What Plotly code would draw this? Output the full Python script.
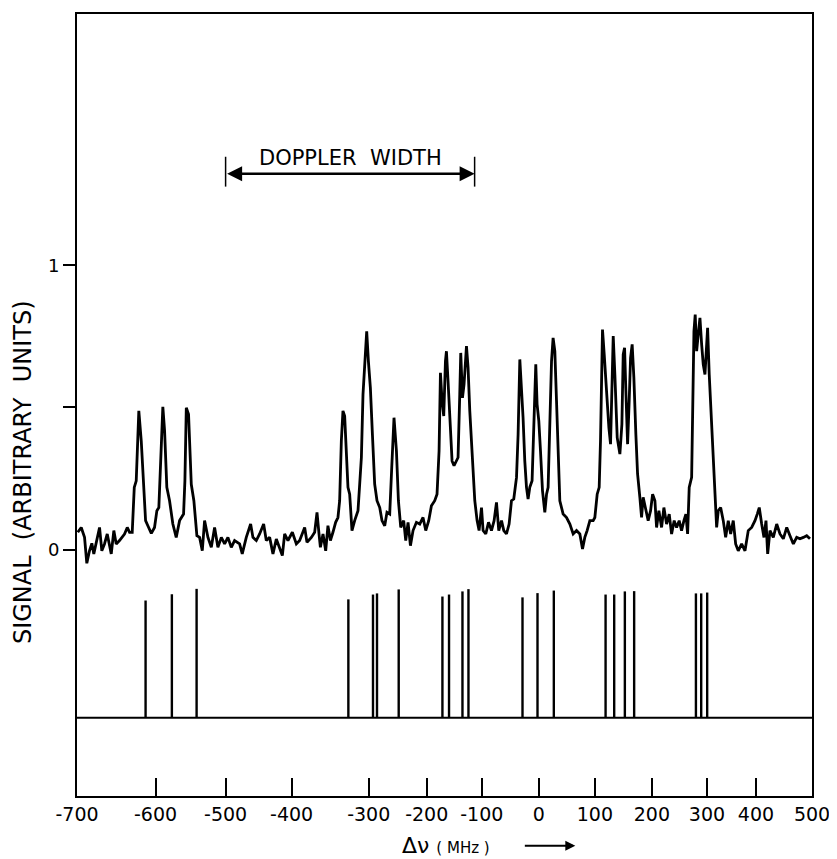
import numpy as np
import plotly.graph_objects as go

# ---------------- data ----------------
# frequency calibration of the recorder sweep: tick labels (MHz) and where each
# calibration mark sits along the chart (arbitrary chart units)
TICK_MHZ = [-700, -600, -500, -400, -300, -200, -100, 0, 100, 200, 300, 400, 500]
TICK_SWEEP = [0, 78.5, 148.5, 214.5, 291.5, 349.5, 404.5, 461.5, 517.5, 574.5, 629.5, 678.5, 734.5]

# recorded spectrum (MHz, signal in arbitrary units)
trace_mhz = [
    -699.0, -694.6, -690.4, -687.5, -684.1, -681.1, -678.6, -675.5, -671.3, -668.4,
    -665.0, -661.5, -658.6, -656.4, -653.1, -650.1, -645.9, -639.5, -636.0, -633.1,
    -629.7, -627.1, -624.6, -621.3, -618.2, -615.3, -612.7, -609.8, -605.4, -601.3,
    -598.1, -595.3, -592.9, -589.6, -587.1, -583.9, -580.0, -575.3, -570.5, -565.7,
    -560.0, -558.1, -556.1, -552.9, -549.0, -545.3, -541.0, -537.1, -533.3, -530.0,
    -525.2, -520.4, -515.7, -511.0, -506.1, -501.4, -496.5, -491.4, -486.4, -478.8,
    -474.8, -468.7, -462.1, -458.6, -453.5, -448.5, -442.4, -438.4, -433.3, -428.3,
    -423.2, -418.2, -414.1, -410.6, -405.6, -399.1, -393.9, -389.6, -383.1, -380.1,
    -374.4, -370.1, -367.1, -364.5,
    -362.7, -359.3, -355.8, -352.9, -349.7, -346.4, -342.9, -339.9, -337.7, -335.5,
    -333.4, -331.2, -329.0, -326.9, -324.7, -321.7, -318.2, -313.9, -311.7, -309.5,
    -307.4, -305.2, -302.6, -300.4, -297.1, -293.6, -289.7, -285.7, -281.0, -277.1,
    -272.4, -268.5, -263.8, -260.3, -256.4, -252.2, -248.8, -244.8, -239.7, -236.2,
    -232.2, -228.1, -223.6, -217.8, -212.1, -206.4, -201.7, -196.4, -191.5, -185.5,
    -181.3, -177.6, -175.1, -172.2, -169.1, -166.0, -164.2, -161.3, -158.2, -154.0,
    -150.4, -146.1, -143.1, -140.0, -138.2, -135.1, -132.2, -127.8, -124.9, -121.8,
    -116.9, -112.7, -108.5, -104.9, -100.5, -97.7, -93.0, -88.2, -83.0, -78.4,
    -74.2, -70.2, -65.4, -61.4, -56.7, -52.1, -47.9, -43.9, -39.1, -36.3,
    -33.3, -30.4, -27.6, -24.6, -21.6, -18.8, -15.8, -11.8, -8.2, -5.3,
    -3.0, 0.0, 3.0, 6.6, 10.7, 13.8, 16.6, 19.6, 22.7, 25.5,
    28.6, 31.6, 34.5, 37.5, 43.4, 49.5, 55.4, 61.3, 67.3, 73.2,
    78.0, 82.1, 86.2, 91.1, 97.0,
    100.0, 104.1, 107.6, 109.9, 111.7, 113.4, 116.4, 120.5, 124.6, 127.5,
    129.8, 132.2, 135.1, 139.2, 143.9, 147.4, 149.7, 152.1, 154.4, 157.4,
    160.2, 162.6, 165.4, 168.4, 171.9, 174.9, 178.9, 181.9, 184.7, 188.9,
    193.5, 197.7, 201.3, 205.5, 208.5, 212.7, 217.6, 221.8, 226.7, 231.5,
    235.8, 240.5, 244.9, 249.6, 253.9, 258.2, 261.8, 264.9, 267.8, 272.2,
    274.0, 276.4, 278.7, 281.3, 284.2, 287.3, 290.4, 293.3, 296.4, 299.5,
    301.4, 304.7, 309.6, 312.9, 316.3, 319.8, 323.1, 328.0, 333.3, 338.2,
    343.5, 348.4, 353.7, 358.6, 363.9, 370.8, 377.6, 384.3, 391.2, 398.0,
    402.3, 405.9, 410.2, 414.3, 417.9, 420.9, 425.0, 430.9, 437.0, 442.9,
    448.8, 454.9, 460.7, 466.7, 472.7, 478.6, 484.5, 490.5, 496.4,
]
trace_signal = [
    0.061, 0.078, 0.043, -0.048, -0.004, 0.022, -0.015, 0.020, 0.078, -0.004,
    0.020, 0.055, 0.014, -0.015, 0.067, 0.020, 0.032, 0.055, 0.078, 0.061,
    0.061, 0.219, 0.242, 0.488, 0.382, 0.242, 0.102, 0.084, 0.057, 0.078,
    0.137, 0.148, 0.312, 0.502, 0.418, 0.219, 0.172, 0.090, 0.043, 0.102,
    0.125, 0.242, 0.499, 0.476, 0.230, 0.172, 0.049, 0.043, -0.004, 0.102,
    0.043, 0.008, 0.078, 0.008, 0.043, 0.020, 0.043, 0.008, 0.032, 0.020,
    -0.015, 0.043, 0.090, 0.043, 0.032, 0.055, 0.090, 0.032, 0.043, -0.015,
    0.037, 0.008, -0.021, 0.055, 0.032, 0.061, 0.020, 0.032, 0.078, 0.026,
    0.043, 0.061, 0.131, 0.055,
    0.008, 0.055, -0.004, 0.084, 0.032, 0.061, 0.096, 0.113, 0.172, 0.382,
    0.488, 0.470, 0.347, 0.219, 0.195, 0.067, 0.102, 0.137, 0.230, 0.324,
    0.546, 0.640, 0.768, 0.663, 0.569, 0.406, 0.230, 0.172, 0.148, 0.102,
    0.084, 0.131, 0.125, 0.289, 0.464, 0.347, 0.172, 0.078, 0.102, 0.032,
    0.096, 0.014, 0.067, 0.096, 0.090, 0.113, 0.067, 0.102, 0.154, 0.172,
    0.195, 0.347, 0.622, 0.523, 0.470, 0.663, 0.698, 0.593, 0.464, 0.312,
    0.295, 0.312, 0.324, 0.546, 0.692, 0.534, 0.581, 0.716, 0.640, 0.488,
    0.289, 0.172, 0.102, 0.067, 0.148, 0.067, 0.055, 0.096, 0.067, 0.102,
    0.166, 0.067, 0.102, 0.067, 0.055, 0.090, 0.172, 0.178, 0.254, 0.406,
    0.669, 0.569, 0.464, 0.312, 0.219, 0.178, 0.219, 0.242, 0.511, 0.652,
    0.511, 0.453, 0.347, 0.207, 0.131, 0.195, 0.219, 0.464, 0.663, 0.745,
    0.698, 0.523, 0.347, 0.172, 0.125, 0.113, 0.090, 0.055, 0.067, 0.055,
    0.002, 0.043, 0.067, 0.102, 0.102,
    0.113, 0.195, 0.219, 0.382, 0.675, 0.774, 0.687, 0.534, 0.429, 0.371,
    0.616, 0.751, 0.616, 0.394, 0.336, 0.441, 0.687, 0.710, 0.558, 0.371,
    0.523, 0.675, 0.722, 0.605, 0.406, 0.266, 0.184, 0.113, 0.184, 0.148,
    0.102, 0.137, 0.195, 0.172, 0.078, 0.137, 0.078, 0.148, 0.090, 0.125,
    0.055, 0.102, 0.078, 0.102, 0.067, 0.102, 0.125, 0.055, 0.219, 0.254,
    0.441, 0.768, 0.827, 0.698, 0.757, 0.815, 0.722, 0.652, 0.616, 0.722,
    0.780, 0.616, 0.441, 0.289, 0.172, 0.078, 0.137, 0.148, 0.102, 0.043,
    0.102, 0.055, 0.102, 0.020, -0.004, 0.020, -0.004, 0.067, 0.078, 0.102,
    0.125, 0.148, 0.090, 0.043, 0.102, -0.015, 0.067, 0.043, 0.090, 0.055,
    0.038, 0.078, 0.049, 0.020, 0.043, 0.038, 0.043, 0.049, 0.038,
]

# calculated hyperfine components (MHz) and their relative strengths
stick_mhz = [-612.7, -576.7, -541.4, -326.4, -292.6, -285.7, -248.3,
             -171.5, -159.5, -135.1, -124.2, -28.6, -2.3, 26.8,
             118.8, 133.9, 152.6, 168.9, 280.0, 289.6, 300.5]
stick_strength = [0.412, 0.434, 0.453, 0.416, 0.433, 0.437, 0.451,
                  0.426, 0.433, 0.444, 0.452, 0.423, 0.438, 0.447,
                  0.433, 0.433, 0.444, 0.445, 0.437, 0.437, 0.440]
STICK_BASE = -0.591

# Doppler width marker (MHz)
DOPPLER_FROM, DOPPLER_TO = -500, -113

Y_TICKS = [0, 0.5, 1]
Y_TICK_TEXT = ["0", "", "1"]

# ---------------- build figure ----------------
def sweep(mhz):
    return np.interp(np.asarray(mhz, dtype=float), TICK_MHZ, TICK_SWEEP)

FONT = "DejaVu Sans"
fig = go.Figure()

fig.add_trace(go.Scatter(
    x=sweep(trace_mhz), y=trace_signal, mode="lines",
    line=dict(color="black", width=2.8), hoverinfo="skip", showlegend=False))

sx, sy = [], []
for m, h in zip(sweep(stick_mhz), stick_strength):
    sx += [m, m, None]
    sy += [STICK_BASE, STICK_BASE + h, None]
fig.add_trace(go.Scatter(x=sx, y=sy, mode="lines",
                         line=dict(color="black", width=2.4),
                         hoverinfo="skip", showlegend=False))

# stick-spectrum baseline
fig.add_shape(type="line", xref="paper", x0=0, x1=1, yref="y",
              y0=STICK_BASE, y1=STICK_BASE, line=dict(color="black", width=2))

# Doppler width marker
d0, d1 = sweep([DOPPLER_FROM, DOPPLER_TO])
y_arrow = 1.322
for xv in (d0, d1):
    fig.add_shape(type="line", x0=xv, x1=xv, y0=1.277, y1=1.382,
                  line=dict(color="black", width=1.5))
fig.add_annotation(x=d1, y=y_arrow, ax=d0, ay=y_arrow, axref="x", ayref="y",
                   text="", showarrow=True, arrowside="end+start",
                   arrowhead=2, startarrowhead=2, arrowsize=1.2,
                   startarrowsize=1.2, arrowwidth=2.5, arrowcolor="black",
                   standoff=0, startstandoff=0)
fig.add_annotation(x=(d0 + d1) / 2, y=1.376, text="DOPPLER  WIDTH",
                   xanchor="center", yanchor="middle", showarrow=False,
                   font=dict(family=FONT, size=21, color="black"))

# axis titles
fig.add_annotation(xref="paper", yref="paper", x=-0.0741, y=0.4136,
                   xanchor="center", yanchor="middle",
                   text="SIGNAL  (ARBITRARY  UNITS)", textangle=-90,
                   showarrow=False, font=dict(family=FONT, size=24, color="black"))
fig.add_annotation(xref="paper", yref="paper", x=0.439, y=-0.0635,
                   xanchor="left", yanchor="middle",
                   text="Δν <span style='font-size:15px'>( MHz )</span>",
                   showarrow=False, font=dict(family=FONT, size=22, color="black"))
fig.add_annotation(xref="paper", yref="paper", x=0.678, y=-0.0635,
                   ax=-52, ay=0, text="", showarrow=True, arrowhead=2,
                   arrowsize=1, arrowwidth=2, arrowcolor="black", standoff=0)

fig.update_xaxes(range=[TICK_SWEEP[0], TICK_SWEEP[-1]],
                 tickmode="array", tickvals=TICK_SWEEP,
                 ticktext=[str(v) for v in TICK_MHZ],
                 ticks="inside", ticklen=18, tickwidth=1.5, tickcolor="black",
                 showline=True, linecolor="black", linewidth=2, mirror=True,
                 showgrid=False, zeroline=False,
                 tickfont=dict(family=FONT, size=19, color="black"))
fig.update_yaxes(range=[-0.8667, 1.8842],
                 tickmode="array", tickvals=Y_TICKS, ticktext=Y_TICK_TEXT,
                 ticks="outside", ticklen=12, tickwidth=1.5, tickcolor="black",
                 showline=True, linecolor="black", linewidth=2, mirror=True,
                 showgrid=False, zeroline=False,
                 tickfont=dict(family=FONT, size=18, color="black"))

# the page adds an 8 px body margin, so the figure is 8 px smaller per side
fig.update_layout(width=829, height=851,
                  margin=dict(l=69, r=25, t=4, b=63, pad=0),
                  paper_bgcolor="white", plot_bgcolor="white",
                  showlegend=False)

fig.write_html("out.html")
